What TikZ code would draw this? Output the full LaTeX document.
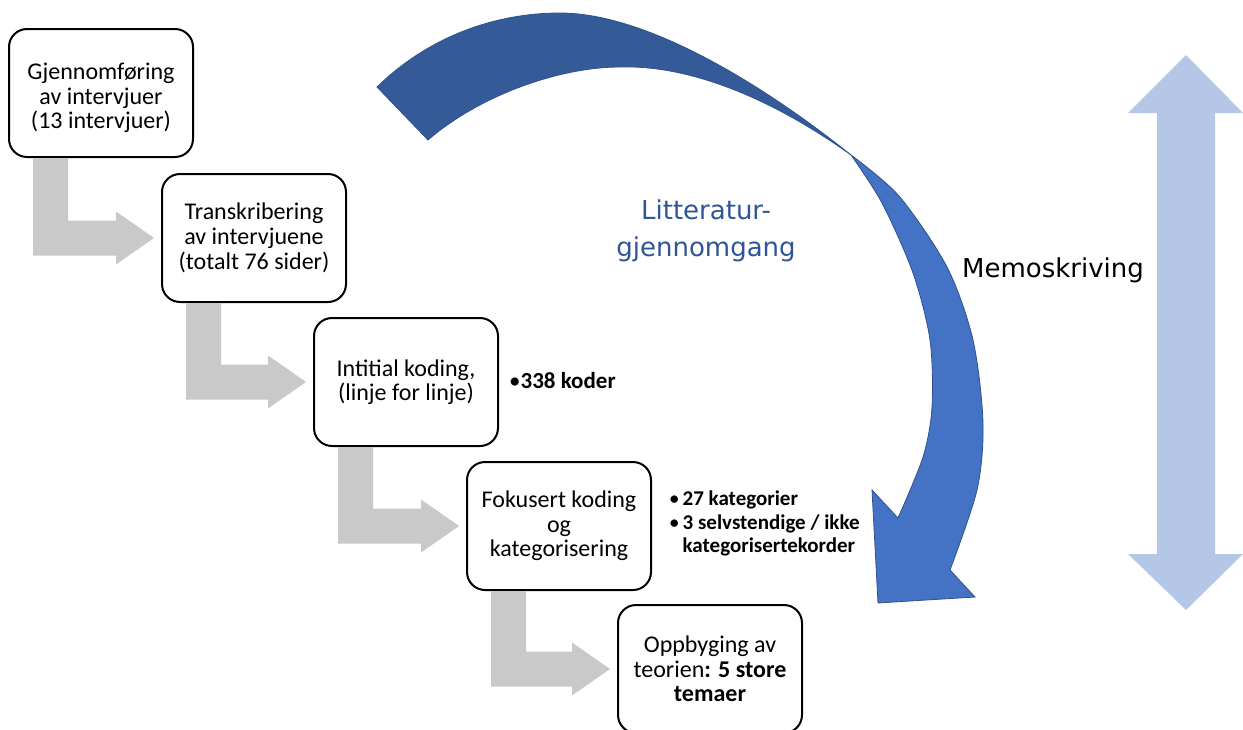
\documentclass[tikz,border=0pt]{standalone}
\usepackage{fontspec}
\setmainfont{Carlito}
\newfontfamily\verd{DejaVu Sans}
\usetikzlibrary{calc}
\definecolor{grayarr}{RGB}{201,201,201}
\definecolor{backblue}{RGB}{52,90,152}
\definecolor{frontblue}{RGB}{68,114,196}
\definecolor{edgeblue}{RGB}{47,82,143}
\definecolor{lightblue}{RGB}{180,199,231}
\definecolor{littblue}{RGB}{47,85,151}
\newcommand\elbowarrow[2]{%
  \path ($(#1.south)+(-68,0)$) coordinate (#1-a)
        ($(#1.south)+(-33,0)$) coordinate (#1-b)
        ($(#2.west)+(0,-17.5)$) coordinate (#2-t)
        ($(#2.west)+(0,17.5)$) coordinate (#2-u);
  \fill[grayarr] (#1-a) -- (#1-b) -- (#1-b |- #2-t)
    -- ($(#2.west)+(-45,-17.5)$) -- ($(#2.west)+(-45,-26.5)$)
    -- ($(#2.west)+(-7,0)$)
    -- ($(#2.west)+(-45,26.5)$) -- ($(#2.west)+(-45,17.5)$)
    -- (#1-a |- #2-u) -- cycle;}
\begin{document}
\begin{tikzpicture}[x=1pt,y=-1pt,
  box/.style={draw=black, line width=2pt, rounded corners=18pt, fill=white,
    minimum width=184pt, minimum height=128pt, anchor=north west,
    align=center, inner sep=0pt, font=\fontsize{24}{24.5}\selectfont},
  bullettext/.style={anchor=west, inner sep=0pt, align=left},
  backband/.style={fill=backblue, draw=edgeblue, line width=0.8pt},
  frontband/.style={fill=frontblue, draw=edgeblue, line width=0.8pt}]
\useasboundingbox (0,0) rectangle (1243,729);
\fill[white] (0,0) rectangle (1243,729);

% light blue double arrow
\fill[lightblue] (1186,55) -- (1243,113) -- (1215,113) -- (1215,554) -- (1243,554)
  -- (1186,610) -- (1128,554) -- (1157,554) -- (1157,113) -- (1128,113) -- cycle;

% blue curved arrow: back band
\coordinate (twist) at (851,155);
\filldraw[backband] (377,87) .. controls (425,40) and (490,13) .. (560,13)
  .. controls (650,13) and (770,90) .. (twist)
  .. controls (760,90) and (680,65) .. (620,67)
  .. controls (560,67) and (480,95) .. (428,140) -- cycle;
% front band with head
\filldraw[frontband] (twist) -- plot[smooth] coordinates {(851,155) (882,203) (913,273) (930,340) (932,407) (923,457) (898,518)}
  -- (872,490) -- (878,603) -- (975,597) -- (950,570)
  -- plot[smooth] coordinates {(950,570) (977,490) (983,423) (973,340) (947,267) (899,196) (851,155)} -- cycle;

% boxes
\node[box] (b1) at (8,28) {\rule{0pt}{27pt}Gjennomføring\\av intervjuer\\(13 intervjuer)};
\node[box] (b2) at (161,173) {Transkribering\\av intervjuene\\[1pt](totalt 76 sider)};
\node[box] (b3) at (313,317) {Intitial koding,\\(linje for linje)};
\node[box] (b4) at (466,461) {Fokusert koding\\og\\kategorisering};
\node[box] (b5) at (617,604) {Oppbyging av\\teorien\textbf{: 5 store}\\\textbf{temaer}};

% gray elbow arrows
\elbowarrow{b1}{b2}
\elbowarrow{b2}{b3}
\elbowarrow{b3}{b4}
\elbowarrow{b4}{b5}

% side texts
\node[bullettext, font=\fontsize{23}{26}\selectfont] (t3) at (509,381) {•\textbf{338 koder}};
\node[bullettext, font=\fontsize{21}{23.5}\selectfont] (t4) at (669,524.5)
  {\begin{tabular}{@{}l@{\hspace{3pt}}l@{}}•&\textbf{27 kategorier}\\•&\textbf{3 selvstendige / ikke}\\&\textbf{kategorisertekorder}\end{tabular}};

\node[font=\verd\fontsize{26}{37}\selectfont, text=littblue, align=center] (lit) at (706,231) {Litteratur-\\gjennomgang};
\node[font=\verd\fontsize{26}{30}\selectfont, text=black] (memo) at (1053,270) {Memoskriving};
\end{tikzpicture}
\end{document}
